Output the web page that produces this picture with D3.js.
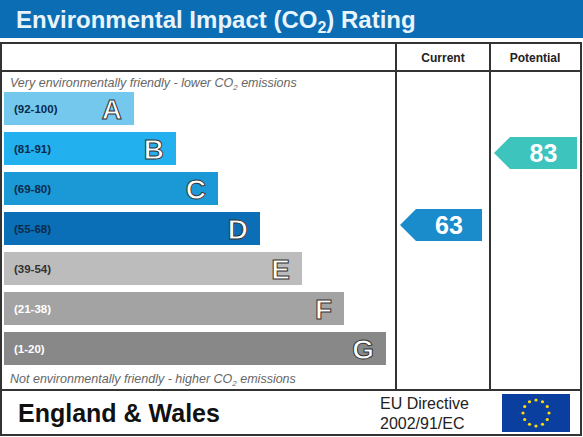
<!DOCTYPE html><html><head><meta charset="utf-8"><script src="https://cdn.jsdelivr.net/npm/d3@7"></script>
<style>body{margin:0;background:#fff}svg{display:block}</style></head><body><script>
const bands=["A","B","C","D","E","F","G"];
const ranges=["(92-100)","(81-91)","(69-80)","(55-68)","(39-54)","(21-38)","(1-20)"];
const bandColors=["#74c8ee","#22b0ee","#1b98d6","#0b6fb8","#bcbcbc","#a3a3a3","#888888"];
const currentRating=63, currentBand="D";
const potentialRating=83, potentialBand="B";
const W=583,H=437;
const svg=d3.select("body").append("svg").attr("width",W).attr("height",H).style("font-family","Liberation Sans, Arial, sans-serif");
svg.append("rect").attr("x",0).attr("y",0).attr("width",W).attr("height",38).attr("fill","#0b6db4");
svg.append("text").attr("x",16).attr("y",28).attr("fill","#e8f4fb").attr("font-size",24).attr("font-weight","bold")
 .html('Environmental Impact (CO<tspan font-size="16" dy="5">2</tspan><tspan dy="-5">) Rating</tspan>');
const g=svg.append("g");
const line=(x1,y1,x2,y2)=>g.append("line").attr("x1",x1).attr("y1",y1).attr("x2",x2).attr("y2",y2).attr("stroke","#333").attr("stroke-width",2);
g.append("rect").attr("x",1).attr("y",43).attr("width",580).attr("height",392).attr("fill","none").attr("stroke","#333").attr("stroke-width",2);
line(1,71,581,71);line(396,43,396,390);line(490,43,490,390);line(1,390,581,390);
svg.append("text").attr("x",443).attr("y",62).attr("text-anchor","middle").attr("font-size",12).attr("font-weight","bold").attr("fill","#222").text("Current");
svg.append("text").attr("x",535).attr("y",62).attr("text-anchor","middle").attr("font-size",12).attr("font-weight","bold").attr("fill","#222").text("Potential");
svg.append("text").attr("x",10).attr("y",87).attr("font-size",12.5).attr("font-style","italic").attr("fill","#666")
 .html('Very environmentally friendly - lower CO<tspan font-size="8" dy="3">2</tspan><tspan dy="-3"> emissions</tspan>');
svg.append("text").attr("x",10).attr("y",383).attr("font-size",12.5).attr("font-style","italic").attr("fill","#666")
 .html('Not environmentally friendly - higher CO<tspan font-size="8" dy="3">2</tspan><tspan dy="-3"> emissions</tspan>');
const y=d3.scaleBand().domain(bands).range([92,365]).paddingInner(0.175).paddingOuter(0);
const w=d3.scaleLinear().domain([0,6]).range([130,382]);
const rows=svg.selectAll("g.band").data(bands).join("g");
rows.append("rect").attr("x",4).attr("y",d=>y(d)).attr("width",(d,i)=>w(i)).attr("height",y.bandwidth()).attr("fill",(d,i)=>bandColors[i]);
rows.append("text").attr("x",14).attr("y",d=>y(d)+y.bandwidth()/2+4).attr("font-size",11.5).attr("font-weight","bold")
 .attr("fill",(d,i)=>i<4?"#0b2a4a":(i==4?"#333":"#fff")).text((d,i)=>ranges[i]);
rows.append("text").attr("x",(d,i)=>w(i)-8).attr("y",d=>y(d)+y.bandwidth()/2+10).attr("text-anchor","end").attr("font-size",28).attr("font-weight","bold")
 .attr("fill","#fff").attr("stroke","#333").attr("stroke-width",1).text(d=>d);
function arrow(x0,x1,band,off,val,col){
 const t=y(band)+off, h=y.bandwidth()-1;
 svg.append("path").attr("d",`M${x0},${t+h/2}L${x0+16},${t}L${x1},${t}L${x1},${t+h}L${x0+16},${t+h}Z`).attr("fill",col);
 svg.append("text").attr("x",(x0+16+x1)/2).attr("y",t+h/2+9).attr("text-anchor","middle").attr("font-size",25).attr("font-weight","bold").attr("fill","#fff").text(val);
}
arrow(400,482,currentBand,-3,currentRating,"#1a8bcb");
arrow(494,577,potentialBand,5,potentialRating,"#3cc4bd");
svg.append("text").attr("x",18).attr("y",422).attr("font-size",25).attr("font-weight","bold").attr("fill","#111").text("England & Wales");
svg.append("text").attr("x",380).attr("y",409).attr("font-size",16).attr("fill","#222").text("EU Directive");
svg.append("text").attr("x",380).attr("y",429).attr("font-size",16).attr("fill","#222").text("2002/91/EC");
svg.append("rect").attr("x",502).attr("y",394).attr("width",68).attr("height",38).attr("fill","#0a3fa0");
d3.range(12).forEach(i=>{const a=i*Math.PI/6;svg.append("circle").attr("cx",536+13*Math.cos(a)).attr("cy",413+13*Math.sin(a)).attr("r",1.6).attr("fill","#ffdd00");});
</script></body></html>
